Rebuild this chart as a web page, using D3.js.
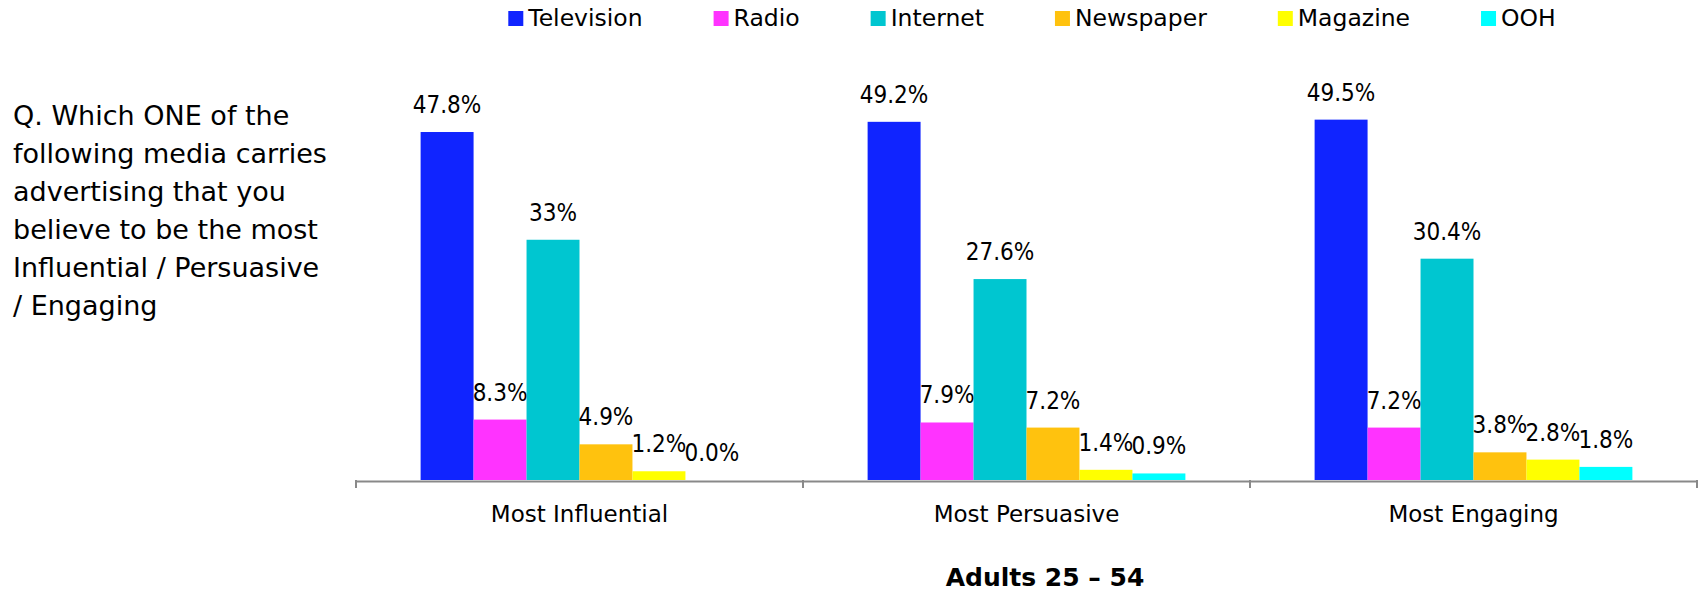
<!DOCTYPE html>
<html>
<head>
<meta charset="utf-8">
<script src="https://cdn.jsdelivr.net/npm/d3@7"></script>
<style>
  body { margin: 0; background: #fff; }
  svg text { font-family: "DejaVu Sans", sans-serif; fill: #000; }
  .val { font-family: "Liberation Sans Narrow", "DejaVu Sans Condensed", sans-serif; }
</style>
</head>
<body>
<div id="chart"></div>
<script>
const categories = ['Most Influential', 'Most Persuasive', 'Most Engaging'];
const series = ['Television', 'Radio', 'Internet', 'Newspaper', 'Magazine', 'OOH'];
const colors = ['#1024ff', '#ff33ff', '#00c6d0', '#ffc20e', '#ffff00', '#00ffff'];

const television = [47.8, 49.2, 49.5];
const radio = [8.3, 7.9, 7.2];
const internet = [33, 27.6, 30.4];
const newspaper = [4.9, 7.2, 3.8];
const magazine = [1.2, 1.4, 2.8];
const ooh = [0.0, 0.9, 1.8];
const seriesValues = [television, radio, internet, newspaper, magazine, ooh];

const question = ['Q. Which ONE of the', 'following media carries', 'advertising that you',
  'believe to be the most', 'Influential / Persuasive', '/ Engaging'];
const footer = 'Adults 25 \u2013 54';

const W = 1704, H = 594;
const svg = d3.select('#chart').append('svg').attr('width', W).attr('height', H);

const x0 = d3.scaleBand().domain(categories).range([356, 1697]);
const x1 = d3.scaleBand().domain(series).range([0, x0.bandwidth()]).paddingOuter(1.22);
const y = d3.scaleLinear().domain([0, 60]).range([480, 43.2]);

const fmt = v => (Number.isInteger(v) && v !== 0 ? v : v.toFixed(1)) + '%';

// bars + value labels
const groups = svg.selectAll('.grp').data(categories).enter().append('g')
  .attr('transform', c => `translate(${x0(c)},0)`);

groups.each(function(c, ci) {
  const g = d3.select(this);
  const rows = series.map((s, si) => ({ s, v: seriesValues[si][ci], color: colors[si] }));
  g.selectAll('rect').data(rows).enter().append('rect')
    .attr('x', d => x1(d.s)).attr('width', x1.bandwidth())
    .attr('y', d => y(d.v)).attr('height', d => y(0) - y(d.v))
    .attr('fill', d => d.color);
  g.selectAll('text.val').data(rows).enter().append('text')
    .attr('class', 'val')
    .attr('x', d => x1(d.s) + x1.bandwidth() / 2)
    .attr('y', d => y(d.v) - 19)
    .attr('text-anchor', 'middle').style('font-size', '24px')
    .text(d => fmt(d.v));
});

// axis
const axis = svg.append('g').attr('transform', `translate(0,${y(0) + 1})`)
  .call(d3.axisBottom(x0).tickSize(0).tickSizeOuter(0).tickPadding(25));
axis.select('.domain').attr('stroke', '#898989').attr('stroke-width', 2);
axis.selectAll('.tick text').style('font-size', '23px').style('font-family', '"DejaVu Sans", sans-serif');
const bounds = categories.map(c => x0(c)).concat([x0.range()[1]]);
axis.selectAll('.bound').data(bounds).enter().append('line')
  .attr('x1', d => d).attr('x2', d => d).attr('y1', -1).attr('y2', 7)
  .attr('stroke', '#898989').attr('stroke-width', 2);

// footer
svg.append('text').attr('x', 1045).attr('y', 586).attr('text-anchor', 'middle')
  .style('font-size', '25px').style('font-weight', 'bold').text(footer);

// question text
svg.append('text').attr('x', 13).attr('y', 125).style('font-size', '27px')
  .selectAll('tspan').data(question).enter().append('tspan')
  .attr('x', 13).attr('dy', (d, i) => i === 0 ? 0 : 38).text(d => d);

// legend: flow layout
const legend = svg.append('g');
let lx = 0;
series.forEach((s, i) => {
  const item = legend.append('g').attr('transform', `translate(${lx},0)`);
  item.append('rect').attr('x', 0).attr('y', 11).attr('width', 15).attr('height', 15).attr('fill', colors[i]);
  const t = item.append('text').attr('x', 20).attr('y', 26).style('font-size', '23.5px').text(s);
  lx += 20 + t.node().getComputedTextLength() + 71;
});
const legendW = lx - 71;
legend.attr('transform', `translate(${1032 - legendW / 2},0)`);
</script>
</body>
</html>
